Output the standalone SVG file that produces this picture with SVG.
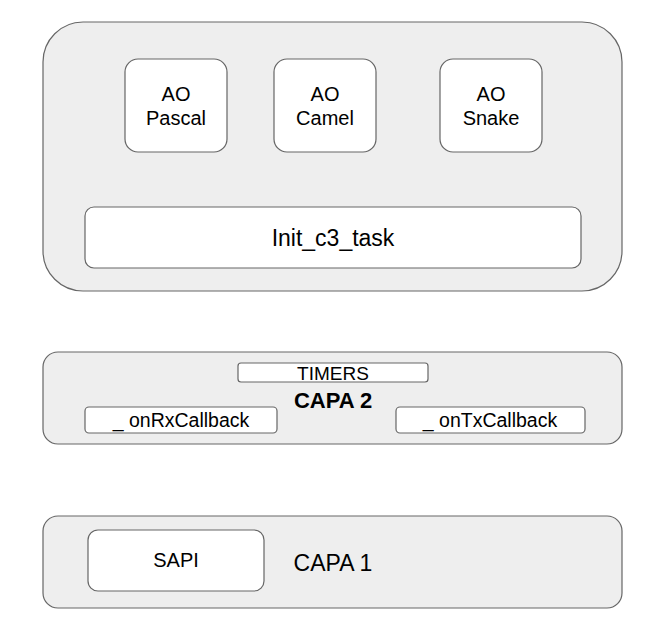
<svg xmlns="http://www.w3.org/2000/svg" width="660" height="628" viewBox="0 0 660 628">
<style>
.cont{fill:#eeeeee;stroke:#666666;stroke-width:1.2}
.box{fill:#ffffff;stroke:#666666;stroke-width:1.2}
text{font-family:"Liberation Sans",Arial,sans-serif;fill:#000;text-anchor:middle;dominant-baseline:central}
</style>
<rect width="660" height="628" fill="#ffffff"/>
<g id="layer3">
<rect class="cont" x="43" y="22" width="579" height="269" rx="40"/>
</g>
<g id="ao-pascal">
<rect class="box" x="125" y="59" width="102" height="93" rx="13"/>
<text x="176" y="94" font-size="20">AO</text>
<text x="176" y="118" font-size="20">Pascal</text>
</g>
<g id="ao-camel">
<rect class="box" x="274" y="59" width="102" height="93" rx="13"/>
<text x="325" y="94" font-size="20">AO</text>
<text x="325" y="118" font-size="20">Camel</text>
</g>
<g id="ao-snake">
<rect class="box" x="440" y="59" width="102" height="93" rx="13"/>
<text x="491" y="94" font-size="20">AO</text>
<text x="491" y="118" font-size="20">Snake</text>
</g>
<g id="init">
<rect class="box" x="85" y="207" width="496" height="61" rx="9"/>
<text x="333" y="238" font-size="23">Init_c3_task</text>
</g>
<g id="capa2">
<rect class="cont" x="43" y="352" width="579" height="92" rx="15"/>
<text x="333" y="400" font-size="22" font-weight="bold">CAPA 2</text>
</g>
<g id="timers">
<rect class="box" x="238" y="363" width="190" height="19" rx="3"/>
<text x="333" y="373" font-size="19">TIMERS</text>
</g>
<g id="onrx">
<rect class="box" x="85" y="407" width="192" height="26" rx="4"/>
<text x="181" y="420" font-size="19.5">_ onRxCallback</text>
</g>
<g id="ontx">
<rect class="box" x="396" y="407" width="189" height="26" rx="4"/>
<text x="490" y="420" font-size="19.5">_ onTxCallback</text>
</g>
<g id="capa1">
<rect class="cont" x="43" y="516" width="579" height="92" rx="15"/>
<text x="333" y="563" font-size="23">CAPA 1</text>
</g>
<g id="sapi">
<rect class="box" x="88" y="530" width="176" height="61" rx="10"/>
<text x="176" y="560" font-size="20">SAPI</text>
</g>
<g id="connectors"></g>
</svg>
